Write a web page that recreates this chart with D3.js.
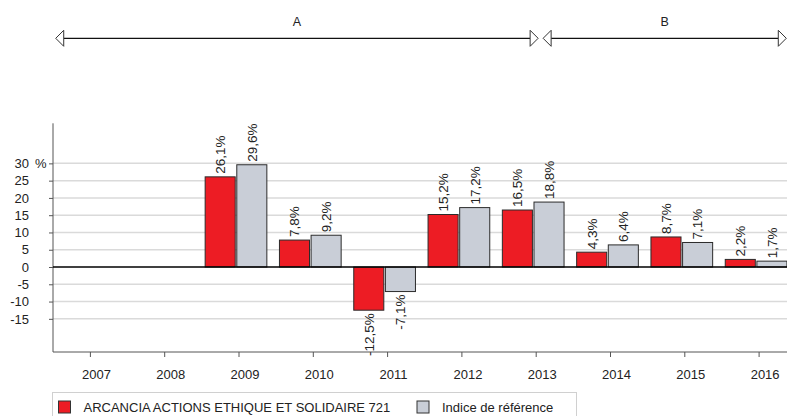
<!DOCTYPE html>
<html>
<head>
<meta charset="utf-8">
<script src="https://cdn.jsdelivr.net/npm/d3@7"></script>
<style>
  body { margin: 0; background: #fff; }
  svg { display: block; font-family: "Liberation Sans", Arial, sans-serif; }
  .axis path, .axis line { stroke: #555; }
  .axis text { font-size: 13px; fill: #222; }
</style>
</head>
<body>
<div id="vis"></div>
<script>
const years = [2007, 2008, 2009, 2010, 2011, 2012, 2013, 2014, 2015, 2016]
const fundValues = [null, null, 26.1, 7.8, -12.5, 15.2, 16.5, 4.3, 8.7, 2.2]
const indexValues = [null, null, 29.6, 9.2, -7.1, 17.2, 18.8, 6.4, 7.1, 1.7]
const seriesNames = ['ARCANCIA ACTIONS ETHIQUE ET SOLIDAIRE 721', 'Indice de référence']
const yTicks = [-15, -10, -5, 0, 5, 10, 15, 20, 25, 30]
const periodLabels = ['A', 'B']
const periodStarts = [2006.54, 2013.1]
const periodEnds = [2013.1, 2016.44]

const W = 787, H = 416
const colors = ['#ED1C24', '#C9CED7']

const svg = d3.select('#vis').append('svg')
    .attr('width', W)
    .attr('height', H)

const plotLeft = 53, plotTop = 123.3, plotBottom = 352

// x: one band per year, overflowing a bit on the right like the original
const xScale = d3.scaleBand()
    .domain(years)
    .range([50.25, 793.25])
    .padding(0)
const xSub = d3.scaleBand()
    .domain([0, 1])
    .range([6.3, 68])
    .paddingInner(0.05)
// continuous year scale for the period arrows
const xYear = d3.scaleLinear()
    .domain([2006.5, 2016.5])
    .range([50.25, 793.25])

const yScale = d3.scaleLinear()
    .domain([-24.6, 41.6])
    .range([plotBottom, plotTop])

// gridlines
svg.append('g')
    .selectAll('line')
    .data(yTicks.filter(d => d !== 0))
    .join('line')
    .attr('x1', plotLeft)
    .attr('x2', W)
    .attr('y1', d => yScale(d))
    .attr('y2', d => yScale(d))
    .attr('stroke', '#dadada')
    .attr('stroke-width', 1.5)

// y axis
const yAxis = svg.append('g')
    .attr('class', 'axis')
    .attr('transform', `translate(${plotLeft},0)`)
    .call(d3.axisLeft(yScale).tickValues(yTicks).tickFormat(d => String(d))
        .tickSize(4).tickPadding(20).tickSizeOuter(0))
yAxis.select('.domain').remove()
yAxis.append('line')
    .attr('y1', plotTop)
    .attr('y2', plotBottom)
    .attr('stroke', '#555')
yAxis.append('text')
    .attr('x', -18)
    .attr('y', yScale(30))
    .attr('dy', '0.32em')
    .attr('text-anchor', 'start')
    .attr('fill', '#222')
    .text('%')

// x axis
const xAxis = svg.append('g')
    .attr('class', 'axis')
    .attr('transform', `translate(3,${plotBottom})`)
    .call(d3.axisBottom(xScale).tickSize(5).tickPadding(13).tickSizeOuter(0))
xAxis.select('.domain').remove()
xAxis.selectAll('text').attr('dx', 6)
svg.append('line')
    .attr('x1', plotLeft)
    .attr('x2', W)
    .attr('y1', plotBottom)
    .attr('y2', plotBottom)
    .attr('stroke', '#555')

// bars
const barData = []
years.forEach((yr, i) => {
    [fundValues[i], indexValues[i]].forEach((v, s) => {
        if (v !== null) barData.push({year: yr, series: s, value: v})
    })
})

const groups = svg.append('g')
groups.selectAll('rect')
    .data(barData)
    .join('rect')
    .attr('x', d => xScale(d.year) + xSub(d.series))
    .attr('width', xSub.bandwidth())
    .attr('y', d => yScale(Math.max(0, d.value)))
    .attr('height', d => Math.abs(yScale(d.value) - yScale(0)))
    .attr('fill', d => colors[d.series])
    .attr('stroke', '#2b2b2b')
    .attr('stroke-width', 1)

// zero line
svg.append('line')
    .attr('x1', plotLeft)
    .attr('x2', W)
    .attr('y1', yScale(0))
    .attr('y2', yScale(0))
    .attr('stroke', '#000')
    .attr('stroke-width', 1.5)

// value labels, rotated (French decimal comma, plain hyphen minus)
const fmt = v => v.toFixed(1).replace('.', ',') + '%'
groups.selectAll('text')
    .data(barData)
    .join('text')
    .attr('transform', d => {
        const cx = xScale(d.year) + xSub(d.series) + xSub.bandwidth() / 2
        const cy = d.value >= 0 ? yScale(d.value) - 3 : yScale(d.value) + 3
        return `translate(${cx},${cy}) rotate(-90)`
    })
    .attr('dy', '0.36em')
    .attr('text-anchor', d => d.value >= 0 ? 'start' : 'end')
    .style('font-size', '13.5px')
    .attr('fill', '#222')
    .text(d => fmt(d.value))

// period arrows
const arrowY = 38.3
const periods = periodLabels.map((label, i) => ({label, from: periodStarts[i], to: periodEnds[i]}))
const pg = svg.append('g')
periods.forEach(p => {
    const x1 = xYear(p.from) + 2.5
    const x2 = xYear(p.to) - 2.5
    pg.append('line')
        .attr('x1', x1 + 8).attr('x2', x2 - 8)
        .attr('y1', arrowY).attr('y2', arrowY)
        .attr('stroke', '#111')
        .attr('stroke-width', 1.3)
    pg.append('path')
        .attr('d', `M${x1},${arrowY} L${x1 + 8},${arrowY - 8} L${x1 + 8},${arrowY + 8} Z`)
        .attr('fill', '#fff')
        .attr('stroke', '#333')
    pg.append('path')
        .attr('d', `M${x2},${arrowY} L${x2 - 8},${arrowY - 8} L${x2 - 8},${arrowY + 8} Z`)
        .attr('fill', '#fff')
        .attr('stroke', '#333')
    pg.append('text')
        .attr('x', (x1 + x2) / 2)
        .attr('y', 26)
        .attr('text-anchor', 'middle')
        .style('font-size', '12.5px')
        .attr('fill', '#222')
        .text(p.label)
})

// legend
const legend = svg.append('g')
legend.append('rect')
    .attr('x', 52.5).attr('y', 392.5)
    .attr('width', 524).attr('height', 40)
    .attr('fill', 'none')
    .attr('stroke', '#d0d0d0')
const legendX = [58.5, 417]
seriesNames.forEach((name, i) => {
    legend.append('rect')
        .attr('x', legendX[i]).attr('y', 401)
        .attr('width', 12).attr('height', 12)
        .attr('fill', colors[i])
        .attr('stroke', '#333')
    legend.append('text')
        .attr('x', legendX[i] + 25)
        .attr('y', 412)
        .style('font-size', '13px')
        .attr('fill', '#222')
        .text(name)
})
</script>
</body>
</html>
